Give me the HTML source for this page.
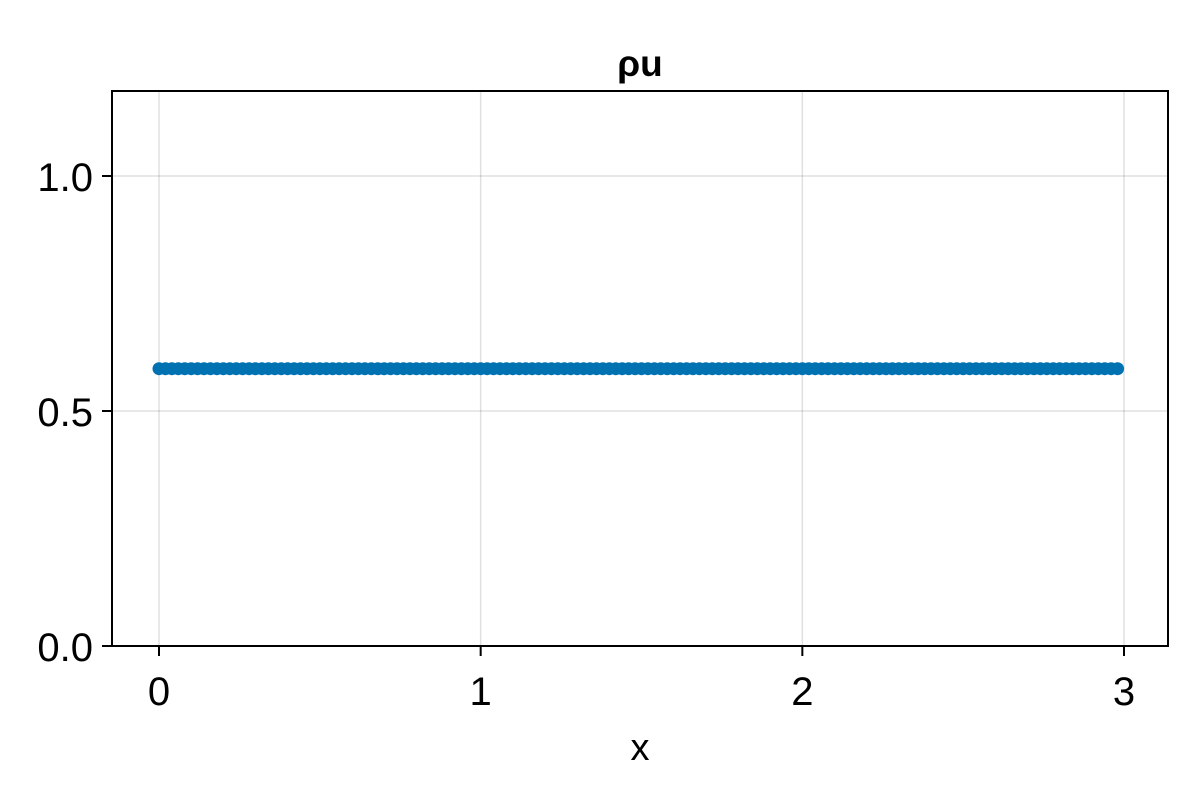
<!DOCTYPE html>
<html><head><meta charset="utf-8"><style>
html,body{margin:0;padding:0;background:#fff;}
svg{display:block;font-family:"Liberation Sans","DejaVu Sans",sans-serif;}
</style></head><body>
<svg id="chart" width="1200" height="800" viewBox="0 0 1200 800">
<rect width="1200" height="800" fill="#fff"/>
<g id="grid"></g>
<g id="series"></g>
<rect x="112" y="91" width="1056" height="555" fill="none" stroke="#000" stroke-width="2"/>
<g id="ticks"></g>
<text x="640" y="76" text-anchor="middle" font-size="37" font-weight="bold">ρu</text>
<text x="640" y="760" text-anchor="middle" font-size="38">x</text>
</svg>
<script>
const xTicks=[0,1,2,3];
const yTicks=[0,0.5,1.0];
const yTickLabels=["0.0","0.5","1.0"];
const xValues=[0,0.02,0.04,0.06,0.08,0.1,0.12,0.14,0.16,0.18,0.2,0.22,0.24,0.26,0.28,0.3,0.32,0.34,0.36,0.38,0.4,0.42,0.44,0.46,0.48,0.5,0.52,0.54,0.56,0.58,0.6,0.62,0.64,0.66,0.68,0.7,0.72,0.74,0.76,0.78,0.8,0.82,0.84,0.86,0.88,0.9,0.92,0.94,0.96,0.98,1.0,1.02,1.04,1.06,1.08,1.1,1.12,1.14,1.16,1.18,1.2,1.22,1.24,1.26,1.28,1.3,1.32,1.34,1.36,1.38,1.4,1.42,1.44,1.46,1.48,1.5,1.52,1.54,1.56,1.58,1.6,1.62,1.64,1.66,1.68,1.7,1.72,1.74,1.76,1.78,1.8,1.82,1.84,1.86,1.88,1.9,1.92,1.94,1.96,1.98,2.0,2.02,2.04,2.06,2.08,2.1,2.12,2.14,2.16,2.18,2.2,2.22,2.24,2.26,2.28,2.3,2.32,2.34,2.36,2.38,2.4,2.42,2.44,2.46,2.48,2.5,2.52,2.54,2.56,2.58,2.6,2.62,2.64,2.66,2.68,2.7,2.72,2.74,2.76,2.78,2.8,2.82,2.84,2.86,2.88,2.9,2.92,2.94,2.96,2.98];
const yValues=[0.59,0.59,0.59,0.59,0.59,0.59,0.59,0.59,0.59,0.59,0.59,0.59,0.59,0.59,0.59,0.59,0.59,0.59,0.59,0.59,0.59,0.59,0.59,0.59,0.59,0.59,0.59,0.59,0.59,0.59,0.59,0.59,0.59,0.59,0.59,0.59,0.59,0.59,0.59,0.59,0.59,0.59,0.59,0.59,0.59,0.59,0.59,0.59,0.59,0.59,0.59,0.59,0.59,0.59,0.59,0.59,0.59,0.59,0.59,0.59,0.59,0.59,0.59,0.59,0.59,0.59,0.59,0.59,0.59,0.59,0.59,0.59,0.59,0.59,0.59,0.59,0.59,0.59,0.59,0.59,0.59,0.59,0.59,0.59,0.59,0.59,0.59,0.59,0.59,0.59,0.59,0.59,0.59,0.59,0.59,0.59,0.59,0.59,0.59,0.59,0.59,0.59,0.59,0.59,0.59,0.59,0.59,0.59,0.59,0.59,0.59,0.59,0.59,0.59,0.59,0.59,0.59,0.59,0.59,0.59,0.59,0.59,0.59,0.59,0.59,0.59,0.59,0.59,0.59,0.59,0.59,0.59,0.59,0.59,0.59,0.59,0.59,0.59,0.59,0.59,0.59,0.59,0.59,0.59,0.59,0.59,0.59,0.59,0.59,0.59];
const NS='http://www.w3.org/2000/svg';
const L=112,R=1168,T=91,B=646;
const xs=v=>159+v*321.67;
const ys=v=>646-v*470;
function mk(tag,attrs,parent){const e=document.createElementNS(NS,tag);for(const k in attrs)e.setAttribute(k,attrs[k]);parent.appendChild(e);return e;}
const grid=document.getElementById('grid'),ticks=document.getElementById('ticks'),series=document.getElementById('series');
xTicks.forEach((t,i)=>{
  const x=xs(t);
  const g=mk('line',{x1:x,x2:x,y1:T,y2:B,stroke:'#000','stroke-opacity':0.12,'stroke-width':1.5},grid);
  
  
  const tk=mk('line',{x1:x,x2:x,y1:B,y2:B+10,stroke:'#000','stroke-width':2},ticks);
  
  
  const lb=mk('text',{x:x,y:705,'text-anchor':'middle','font-size':40},ticks);
  lb.textContent=String(t);
  
  
});
yTicks.forEach((t,i)=>{
  const y=ys(t);
  const g=mk('line',{x1:L,x2:R,y1:y,y2:y,stroke:'#000','stroke-opacity':0.12,'stroke-width':1.5},grid);
  
  
  const tk=mk('line',{x1:L-10,x2:L,y1:y,y2:y,stroke:'#000','stroke-width':2},ticks);
  
  
  const lb=mk('text',{x:L-19,y:y+15,'text-anchor':'end','font-size':40},ticks);
  lb.textContent=yTickLabels[i];
  
  
});
xValues.forEach((v,i)=>{
  const c=mk('circle',{cx:xs(v),cy:ys(yValues[i]),r:6.5,fill:'#0072b2'},series);
  
  
});
</script>
</body></html>
